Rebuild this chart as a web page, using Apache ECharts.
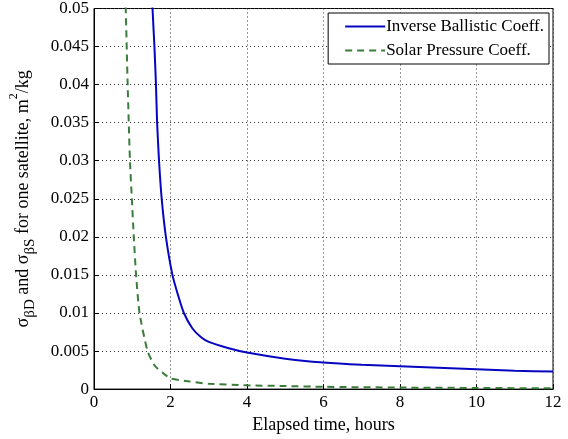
<!DOCTYPE html>
<html>
<head>
<meta charset="utf-8">
<script src="https://cdn.jsdelivr.net/npm/echarts@6/dist/echarts.min.js"></script>
<style>
  html, body { margin: 0; padding: 0; background: #fff; }
  #chart { width: 568px; height: 439px; }
</style>
</head>
<body>
<div id="chart"></div>
<script>
// elapsed time (hours) and sigma (m^2/kg)
const ballisticTime = [1.50, 1.53, 1.58, 1.62, 1.65, 1.70, 1.77, 1.88, 2.05, 2.20, 2.35, 2.57, 2.80, 3.0, 3.5, 4, 5, 6, 7, 8, 9, 10, 11, 12];
const ballisticSigma = [0.0555, 0.050, 0.045, 0.040, 0.035, 0.030, 0.025, 0.020, 0.015, 0.0123, 0.010, 0.0080, 0.0068, 0.0062, 0.0054, 0.0048, 0.0040, 0.0035, 0.0032, 0.0030, 0.0028, 0.0026, 0.0024, 0.0023];

const solarTime = [0.80, 0.83, 0.88, 0.94, 0.99, 1.04, 1.10, 1.19, 1.40, 1.60, 1.88, 2.0, 2.5, 3, 4, 5, 6, 8, 10, 12];
const solarSigma = [0.055, 0.050, 0.040, 0.030, 0.025, 0.020, 0.015, 0.010, 0.005, 0.0030, 0.0018, 0.0014, 0.0010, 0.0007, 0.0005, 0.0004, 0.0003, 0.0002, 0.00015, 0.0001];

const seriesNames = ['Inverse Ballistic Coeff.', 'Solar Pressure Coeff.'];

const pairs = (xs, ys) => xs.map((x, i) => [x, ys[i]]);

const font = 'Liberation Serif';
const chart = echarts.init(document.getElementById('chart'));

chart.setOption({
  animation: false,
  textStyle: { fontFamily: font },
  grid: {
    left: 91, right: 15, top: 6, bottom: 48,
    show: true, borderColor: '#000', borderWidth: 1
  },
  legend: {
    orient: 'vertical',
    right: 19, top: 13,
    itemWidth: 40, itemHeight: 12, itemGap: 7,
    padding: [5, 5, 5, 16],
    borderColor: '#000', borderWidth: 1, borderRadius: 0,
    backgroundColor: '#fff',
    itemStyle: { opacity: 0 },
    textStyle: { fontFamily: font, fontSize: 17, color: '#000', padding: [0, 0, 0, -4] },
    data: seriesNames
  },
  xAxis: {
    type: 'value',
    min: 0, max: 12, interval: 2,
    name: 'Elapsed time, hours',
    nameLocation: 'middle',
    nameGap: 24,
    nameTextStyle: { fontFamily: font, fontSize: 18, color: '#000' },
    axisLine: { lineStyle: { color: '#000' } },
    axisTick: { inside: true, length: 5, lineStyle: { color: '#000' } },
    axisLabel: { fontFamily: font, fontSize: 17, color: '#000', margin: 5 },
    splitLine: { show: true, lineStyle: { color: '#333', type: [1, 3], width: 1 } }
  },
  yAxis: {
    type: 'value',
    min: 0, max: 0.05, interval: 0.005,
    name: '{s|σ}{sub|βD}{s| and σ}{sub|βS}{s| for one satellite, m}{sup|2}{s|/kg}',
    nameLocation: 'middle',
    nameGap: 56,
    nameTextStyle: {
      fontFamily: font, fontSize: 18, color: '#000',
      rich: {
        s: { fontFamily: font, fontSize: 18, color: '#000', lineHeight: 30, verticalAlign: 'middle' },
        sub: { fontFamily: font, fontSize: 15, color: '#000', lineHeight: 30, verticalAlign: 'bottom' },
        sup: { fontFamily: font, fontSize: 12, color: '#000', lineHeight: 30, verticalAlign: 'top' }
      }
    },
    axisLine: { lineStyle: { color: '#000' } },
    axisTick: { inside: true, length: 5, lineStyle: { color: '#000' } },
    axisLabel: {
      fontFamily: font, fontSize: 17, color: '#000', margin: 5,
      formatter: v => (v === 0 ? '0' : String(+v.toFixed(3)))
    },
    splitLine: { show: true, lineStyle: { color: '#333', type: [1, 3], width: 1 } }
  },
  series: [
    {
      name: seriesNames[0],
      type: 'line',
      data: pairs(ballisticTime, ballisticSigma),
      showSymbol: false,
      symbol: 'none',
      clip: true,
      smooth: 0.2,
      lineStyle: { color: '#0606c0', width: 2 },
      itemStyle: { color: '#0606c0' }
    },
    {
      name: seriesNames[1],
      type: 'line',
      data: pairs(solarTime, solarSigma),
      showSymbol: false,
      symbol: 'none',
      clip: true,
      smooth: 0.2,
      lineStyle: { color: '#3a7d3a', width: 2, type: [7, 5] },
      itemStyle: { color: '#3a7d3a' }
    }
  ]
});
</script>
</body>
</html>
